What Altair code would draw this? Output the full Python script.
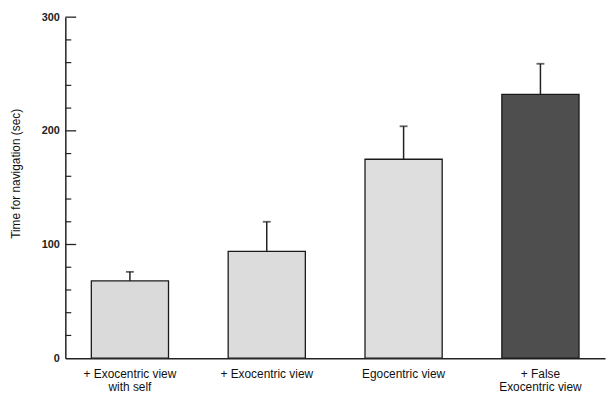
import altair as alt
import pandas as pd

conditions = ["+ Exocentric view\nwith self", "+ Exocentric view", "Egocentric view", "+ False\nExocentric view"]
means = [68, 94, 175, 232]
upper = [76, 120, 204, 259]
fills = ["#dadada", "#dcdcdc", "#dedede", "#4e4e4e"]

major_ticks = [100, 200, 300]
minor_ticks = [20, 40, 60, 80, 120, 140, 160, 180, 220, 240, 260, 280]

df = pd.DataFrame({"cond": conditions, "mean": means, "upper": upper})
ticks_major = pd.DataFrame({"v": major_ticks})
ticks_minor = pd.DataFrame({"v": minor_ticks})

W, H = 546, 345

x = alt.X("cond:N", sort=conditions,
          scale=alt.Scale(paddingInner=0.436, paddingOuter=0.19),
          axis=alt.Axis(title=None, labelAngle=0, ticks=False,
                        labelExpr="split(datum.label, '\\n')",
                        labelFont="Liberation Sans", labelFontSize=12,
                        labelColor="#111", labelPadding=11, labelLineHeight=13,
                        domainColor="#222", domainWidth=1.5))
y_scale = alt.Scale(domain=[0, 300], nice=False)
y = alt.Y("mean:Q", scale=y_scale,
          axis=alt.Axis(title="Time for navigation (sec)", values=[0, 100, 200, 300],
                        ticks=False, grid=False, labelPadding=6,
                        labelFont="Liberation Sans", labelFontSize=11, labelFontWeight="bold",
                        labelColor="#222",
                        titleFont="Liberation Sans", titleFontSize=12, titleFontWeight="normal",
                        titleColor="#111", titleX=-50, titleY=158, titleAngle=-90,
                        titleAlign="center", titleBaseline="middle",
                        domainColor="#222", domainWidth=1.5))

bars = alt.Chart(df).mark_bar(stroke="#1a1a1a", strokeWidth=1.3).encode(
    x=x, y=y,
    fill=alt.Fill("cond:N", sort=conditions, scale=alt.Scale(domain=conditions, range=fills), legend=None),
)

err = alt.Chart(df).mark_rule(color="#222", strokeWidth=1.5).encode(
    x=alt.X("cond:N", sort=conditions), y=alt.Y("mean:Q"), y2="upper:Q")
caps = alt.Chart(df).mark_tick(color="#222", thickness=1.8, size=8, orient="horizontal").encode(
    x=alt.X("cond:N", sort=conditions), y=alt.Y("upper:Q"))

tmaj = alt.Chart(ticks_major).mark_rule(color="#222", strokeWidth=1.3).encode(
    y=alt.Y("v:Q", scale=y_scale), x=alt.value(0), x2=alt.value(11))
tmin = alt.Chart(ticks_minor).mark_rule(color="#222", strokeWidth=1.2).encode(
    y=alt.Y("v:Q", scale=y_scale), x=alt.value(0), x2=alt.value(6))

chart = alt.layer(bars, err, caps, tmaj, tmin).properties(
    width=W, height=H,
    autosize=alt.AutoSizeParams(type="none"),
    padding={"left": 58, "top": 7, "right": 2, "bottom": 36},
    background="white",
).configure_view(stroke=None)

chart.save("out.html", embed_options={"renderer": "svg", "actions": False})
